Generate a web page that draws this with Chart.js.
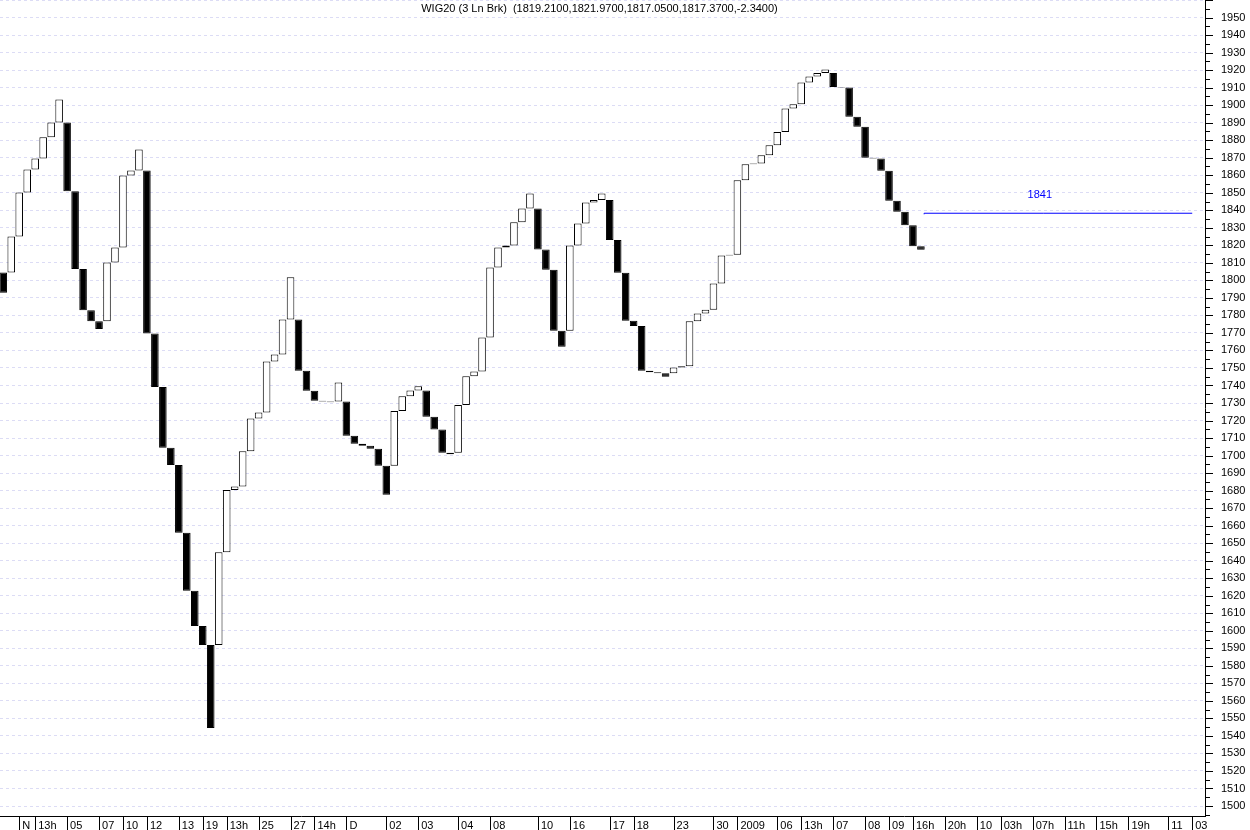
<!DOCTYPE html>
<html>
<head>
<meta charset="utf-8">
<script src="https://cdn.jsdelivr.net/npm/chart.js@4.4.0/dist/chart.umd.min.js"></script>
<style>
  body { margin: 0; background: #fff; }
  canvas { display: block; }
</style>
</head>
<body>
<canvas id="myChart" width="1250" height="830"></canvas>
<script>
const TITLE = 'WIG20 (3 Ln Brk)  (1819.2100,1821.9700,1817.0500,1817.3700,-2.3400)';

// three line break bricks: open / close of every brick (white = up, black = down)
const brickOpen = [
  1804.5, 1804.5, 1825.0, 1850.2, 1863.3, 1869.6, 1881.7, 1890.1, 1890.1, 1850.9,
  1806.5, 1783.0, 1776.7, 1776.7, 1810.2, 1818.8, 1859.9, 1862.7, 1862.7, 1769.7,
  1739.2, 1704.4, 1694.6, 1655.9, 1622.8, 1602.7, 1591.9, 1591.9, 1644.8, 1680.3,
  1682.4, 1702.4, 1721.2, 1724.6, 1753.7, 1757.7, 1777.7, 1777.7, 1748.4, 1737.0,
  1731.3, 1730.9, 1730.9, 1730.9, 1711.3, 1706.7, 1705.6, 1703.9, 1694.2, 1694.2,
  1725.4, 1733.9, 1737.2, 1737.2, 1722.1, 1714.9, 1701.6, 1701.6, 1728.8, 1745.2,
  1748.0, 1767.4, 1807.4, 1818.8, 1819.9, 1833.2, 1841.0, 1841.0, 1817.6, 1806.0,
  1771.2, 1771.2, 1819.9, 1832.5, 1844.4, 1845.9, 1845.9, 1823.1, 1804.3, 1776.9,
  1773.9, 1748.4, 1747.6, 1747.0, 1747.0, 1750.3, 1751.0, 1776.6, 1781.1, 1783.2,
  1798.2, 1814.2, 1814.6, 1857.2, 1866.3, 1866.7, 1871.4, 1877.1, 1884.6, 1898.1,
  1900.5, 1912.9, 1916.3, 1918.4, 1918.4, 1910.4, 1910.0, 1893.3, 1887.6, 1869.9,
  1869.5, 1862.5, 1845.4, 1839.1, 1831.5, 1819.5
];
const brickClose = [
  1792.9, 1825.0, 1850.2, 1863.3, 1869.6, 1881.7, 1890.1, 1903.2, 1850.9, 1806.5,
  1783.0, 1776.7, 1772.2, 1810.2, 1818.8, 1859.9, 1862.7, 1874.7, 1769.7, 1739.2,
  1704.4, 1694.6, 1655.9, 1622.8, 1602.7, 1591.9, 1544.5, 1644.8, 1680.3, 1682.4,
  1702.4, 1721.2, 1724.6, 1753.7, 1757.7, 1777.7, 1801.7, 1748.4, 1737.0, 1731.3,
  1730.9, 1730.5, 1741.7, 1711.3, 1706.7, 1705.6, 1703.9, 1694.2, 1677.6, 1725.4,
  1733.9, 1737.2, 1739.5, 1722.1, 1714.9, 1701.6, 1700.8, 1728.8, 1745.2, 1748.0,
  1767.4, 1807.4, 1818.8, 1819.9, 1833.2, 1841.0, 1849.6, 1817.6, 1806.0, 1771.2,
  1762.1, 1819.9, 1832.5, 1844.4, 1845.9, 1849.6, 1823.1, 1804.3, 1776.9, 1773.9,
  1748.4, 1747.6, 1747.0, 1745.0, 1750.3, 1751.0, 1776.6, 1781.1, 1783.2, 1798.2,
  1814.2, 1814.6, 1857.2, 1866.3, 1866.7, 1871.4, 1877.1, 1884.6, 1898.1, 1900.5,
  1912.9, 1916.3, 1918.4, 1920.3, 1910.4, 1910.0, 1893.3, 1887.6, 1869.9, 1869.5,
  1862.5, 1845.4, 1839.1, 1831.5, 1819.5, 1817.4
];

// date labels under the bricks (brick index -> text)
const xTickPos = [2, 4, 8, 12, 15, 18, 22, 25, 28, 32, 36, 39, 43, 48, 52, 57, 61, 67, 71, 76,
  79, 84, 89, 92, 97, 100, 104, 108, 111, 114, 118, 122, 125, 129, 133, 137, 141, 146, 149];
const xTickText = ['N', '13h', '05', '07', '10', '12', '13', '19', '13h', '25', '27', '14h', 'D', '02', '03',
  '04', '08', '10', '16', '17', '18', '23', '30', '2009', '06', '13h', '07', '08', '09', '16h',
  '20h', '10', '03h', '07h', '11h', '15h', '19h', '11', '03'];

// blue projection line on the right
const projX = [115.4, 130.4, 149.0];
const projY = [1837.7, 1838.3, 1838.3];
const projText = '1841';

const FONT = '"Liberation Sans", Arial, sans-serif';

const extras = {
  id: 'extras',
  afterDraw(chart) {
    const { ctx, chartArea, scales: { x, y } } = chart;
    ctx.save();
    ctx.strokeStyle = '#000';
    ctx.lineWidth = 1;
    ctx.beginPath();
    // major / minor ticks on the price axis
    y.ticks.forEach(t => {
      [t.value, t.value - 5].forEach((v, k) => {
        if (v < y.min) return;
        const py = Math.round(y.getPixelForValue(v)) + 0.5;
        ctx.moveTo(chartArea.right, py);
        ctx.lineTo(chartArea.right + (k ? 5 : 8), py);
      });
    });
    // tick lines under the date labels
    x.ticks.forEach(t => {
      const px = Math.round(x.getPixelForValue(t.value)) + 0.5;
      ctx.moveTo(px, chartArea.bottom);
      ctx.lineTo(px, chart.height);
    });
    ctx.stroke();

    ctx.font = '11px ' + FONT;
    ctx.textAlign = 'center';
    ctx.textBaseline = 'middle';
    ctx.fillStyle = '#000';
    ctx.fillText(TITLE, (chartArea.left + chartArea.right) / 2 - 3, 9);

    ctx.fillStyle = '#0000ff';
    ctx.fillText(projText, x.getPixelForValue(projX[1]) - 4, y.getPixelForValue(projY[1]) - 18);
    ctx.restore();
  }
};

const ctx = document.getElementById('myChart').getContext('2d');
const myChart = new Chart(ctx, {
  data: {
    datasets: [{
      type: 'line',
      data: projX.map((v, i) => ({ x: v, y: projY[i] })),
      borderColor: '#0000ff',
      borderWidth: 1,
      pointRadius: 0,
      stepped: 'after',
      fill: false
    }, {
      type: 'bar',
      data: brickOpen.map((o, i) => ({ x: i, y: [Math.min(o, brickClose[i]), Math.max(o, brickClose[i])] })),
      backgroundColor: brickOpen.map((o, i) => brickClose[i] > o ? '#ffffff' : '#000000'),
      borderColor: '#000000',
      borderWidth: 1,
      borderSkipped: false,
      barPercentage: 0.95,
      categoryPercentage: 1,
      grouped: false
    }]
  },
  options: {
    responsive: false,
    animation: false,
    layout: { padding: 0, autoPadding: false },
    plugins: {
      legend: { display: false },
      tooltip: { enabled: false },
      title: { display: false }
    },
    scales: {
      x: {
        type: 'linear',
        offset: false,
        min: -0.41,
        max: 150.6,
        afterFit: s => { s.height = 14; s.paddingLeft = 0; s.paddingRight = 0; },
        afterBuildTicks: s => { s.ticks = xTickPos.map(v => ({ value: v })); },
        grid: { display: false, offset: false },
        border: { display: true, color: '#000', width: 1 },
        ticks: {
          autoSkip: false,
          maxRotation: 0,
          minRotation: 0,
          align: 'start',
          labelOffset: 3,
          padding: -5,
          color: '#000',
          font: { family: FONT, size: 11 },
          callback: (v, i) => xTickText[i]
        }
      },
      y: {
        position: 'right',
        min: 1494.3,
        max: 1960,
        afterFit: s => { s.width = 45; s.paddingTop = 0; s.paddingBottom = 0; },
        grid: { color: '#dcdcf5', lineWidth: 1, drawTicks: true, tickLength: 14, tickColor: 'rgba(0,0,0,0)' },
        border: { display: true, color: '#000', width: 1, dash: [3, 3] },
        ticks: {
          stepSize: 10,
          includeBounds: false,
          padding: 2,
          color: '#000',
          font: { family: FONT, size: 11 },
          callback: v => v >= 1960 ? '' : v
        }
      }
    }
  },
  plugins: [extras]
});
</script>
</body>
</html>
